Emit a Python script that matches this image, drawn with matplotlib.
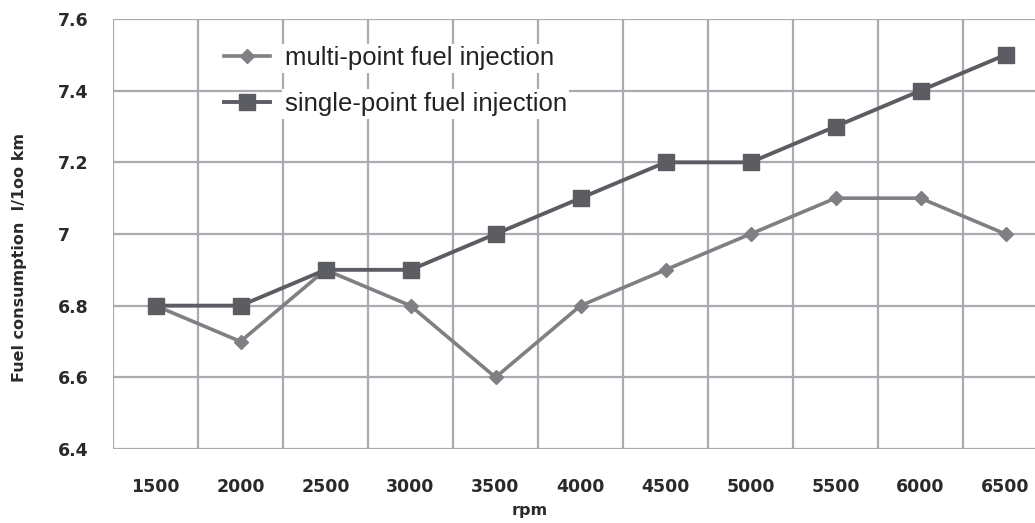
import matplotlib
matplotlib.use('Agg')
import matplotlib.pyplot as plt

rpm = ['1500', '2000', '2500', '3000', '3500', '4000', '4500', '5000', '5500', '6000', '6500']
multi_point = [6.8, 6.7, 6.9, 6.8, 6.6, 6.8, 6.9, 7.0, 7.1, 7.1, 7.0]
single_point = [6.8, 6.8, 6.9, 6.9, 7.0, 7.1, 7.2, 7.2, 7.3, 7.4, 7.5]
yticks = [6.4, 6.6, 6.8, 7.0, 7.2, 7.4, 7.6]
ytick_labels = ['6.4', '6.6', '6.8', '7', '7.2', '7.4', '7.6']

W, H = 1035, 523
fig = plt.figure(figsize=(W / 100, H / 100), dpi=100)
ax = fig.add_axes([113 / W, 1 - 449 / H, (W - 113) / W, (449 - 19) / H])

x = list(range(len(rpm)))
grid_c = '#a9abb1'
# vertical grid sits on the category boundaries
for b in range(len(rpm)):
    ax.axvline(b - 0.5, color=grid_c, lw=1.6, zorder=0)
for v in yticks:
    ax.axhline(v, color=grid_c, lw=1.6, zorder=0)

ax.plot(x, multi_point, color='#7f8084', lw=2.6, marker='D', ms=7.5,
        label='multi-point fuel injection', zorder=3)
ax.plot(x, single_point, color='#5c5d62', lw=2.8, marker='s', ms=11,
        label='single-point fuel injection', zorder=4)

ax.set_xlim(-0.5, -0.5 + (W - 113) / 85)
ax.set_ylim(6.4, 7.6)
ax.set_xticks(x)
ax.set_xticklabels(rpm)
ax.set_yticks(yticks)
ax.set_yticklabels(ytick_labels)
for s in ax.spines.values():
    s.set_visible(False)
ax.tick_params(length=0, labelsize=12.5, labelcolor='#2a2a2a')
ax.tick_params(axis='x', pad=21)
ax.tick_params(axis='y', pad=40)
for lab in ax.get_xticklabels() + ax.get_yticklabels():
    lab.set_fontfamily('DejaVu Sans')
    lab.set_fontweight('bold')
for lab in ax.get_yticklabels():
    lab.set_horizontalalignment('left')

fig.text(530 / W, 1 - 511 / H, 'rpm', fontfamily='DejaVu Sans', fontweight='bold',
         fontsize=11.5, color='#2a2a2a', ha='center', va='center')
fig.text(20 / W, 1 - 257 / H, 'Fuel consumption  l/1oo km', fontfamily='DejaVu Sans',
         fontweight='bold', fontsize=11.5, color='#2a2a2a', rotation=90,
         ha='center', va='center')

leg = ax.legend(loc='upper left', bbox_to_anchor=(88 / (W - 113), 0.99), frameon=False,
                prop={'family': 'Liberation Sans', 'size': 18.5}, handlelength=1.8,
                labelspacing=0.83, handletextpad=0.55)
for t in leg.get_texts():
    t.set_color('#222222')
    t.set_bbox(dict(facecolor='white', edgecolor='none', pad=2))

fig.savefig('out.png', dpi=100)
